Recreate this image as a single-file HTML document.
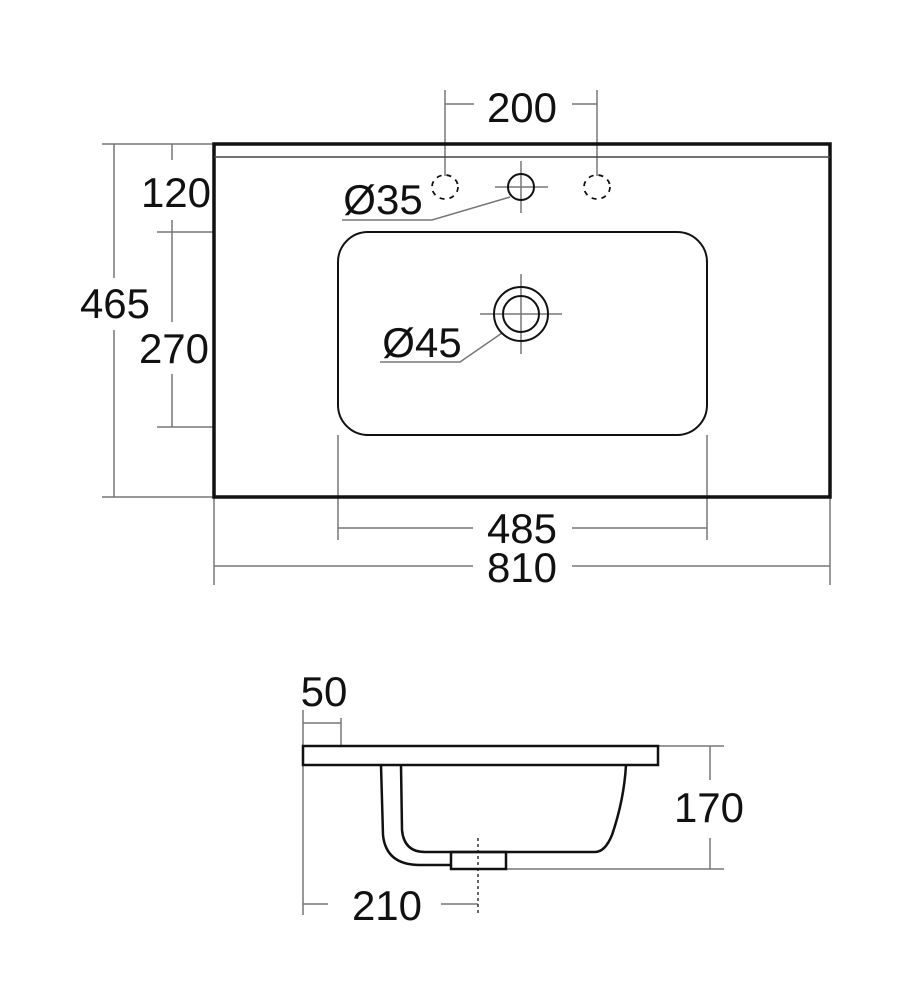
<!DOCTYPE html>
<html><head><meta charset="utf-8"><style>html,body{margin:0;padding:0;background:#fff}svg{display:block}</style></head>
<body>
<svg width="924" height="1000" viewBox="0 0 924 1000" xmlns="http://www.w3.org/2000/svg">
<g font-family="Liberation Sans, sans-serif" font-size="42" fill="#111" text-anchor="middle">
<text x="522" y="122">200</text>
<text x="176" y="207">120</text>
<text x="115" y="318">465</text>
<text x="174" y="363">270</text>
<text x="383" y="214">Ø35</text>
<text x="422" y="357">Ø45</text>
<text x="522" y="543">485</text>
<text x="522" y="582">810</text>
<text x="324" y="706">50</text>
<text x="709" y="822">170</text>
<text x="387" y="920">210</text>
</g>
<g fill="none" stroke="#777" stroke-width="1.5">
<!-- 200 -->
<line x1="445" y1="90" x2="445" y2="176"/><line x1="597" y1="90" x2="597" y2="176"/>
<line x1="445" y1="104" x2="474" y2="104"/><line x1="572" y1="104" x2="597" y2="104"/>
<!-- left dims -->
<line x1="102" y1="144" x2="214" y2="144"/><line x1="102" y1="497" x2="214" y2="497"/>
<line x1="114" y1="144" x2="114" y2="278"/><line x1="114" y1="330" x2="114" y2="497"/>
<line x1="172" y1="144" x2="172" y2="160"/>
<line x1="157" y1="232" x2="214" y2="232"/><line x1="157" y1="427" x2="214" y2="427"/>
<line x1="172" y1="220" x2="172" y2="322"/><line x1="172" y1="374" x2="172" y2="427"/>
<!-- bottom dims -->
<line x1="338" y1="435" x2="338" y2="540"/><line x1="707" y1="435" x2="707" y2="540"/>
<line x1="214" y1="497" x2="214" y2="585"/><line x1="830" y1="497" x2="830" y2="585"/>
<line x1="338" y1="528" x2="473" y2="528"/><line x1="572" y1="528" x2="707" y2="528"/>
<line x1="214" y1="566" x2="473" y2="566"/><line x1="572" y1="566" x2="830" y2="566"/>
<!-- leaders -->
<polyline points="342,220 432,220 510,197"/>
<polyline points="380,362 460,362 502,333"/>
<!-- crosshairs -->
<line x1="495" y1="187" x2="548" y2="187"/><line x1="521" y1="161" x2="521" y2="213"/>
<line x1="480" y1="314" x2="562" y2="314"/><line x1="521" y1="274" x2="521" y2="354"/>
<!-- side dims -->
<line x1="303" y1="710" x2="303" y2="915"/><line x1="341" y1="718" x2="341" y2="746"/>
<line x1="303" y1="723" x2="341" y2="723"/>
<line x1="658" y1="746" x2="724" y2="746"/><line x1="506" y1="869" x2="724" y2="869"/>
<line x1="710" y1="746" x2="710" y2="780"/><line x1="710" y1="838" x2="710" y2="869"/>
<line x1="303" y1="904" x2="328" y2="904"/><line x1="441" y1="904" x2="478" y2="904"/>
<line x1="478" y1="838" x2="478" y2="915" stroke-dasharray="3,3" stroke="#333"/>
</g>
<g fill="none" stroke="#111">
<rect x="214" y="144" width="616" height="353" stroke-width="3.5"/>
<line x1="214" y1="157" x2="830" y2="157" stroke-width="1.5" stroke="#444"/>
<rect x="338" y="232" width="369" height="203" rx="30" stroke-width="2"/>
<circle cx="521" cy="187" r="13" stroke-width="2"/>
<circle cx="521" cy="314" r="27" stroke-width="2"/>
<circle cx="521" cy="314" r="18" stroke-width="2"/>
<ellipse cx="445" cy="187" rx="13" ry="12" stroke-dasharray="5,5" stroke-width="1.8"/>
<ellipse cx="597" cy="187" rx="13" ry="12" stroke-dasharray="5,5" stroke-width="1.8"/>
<rect x="303" y="746" width="355" height="19" stroke-width="2.5"/>
<path d="M381 765 L383 835 Q386 865 420 865 L451 865" stroke-width="2.5"/>
<path d="M401 765 L402 830 Q404 852 425 852 L595 852 Q605 852 612 835 Q624 800 626 765" stroke-width="2.5"/>
<rect x="451" y="852" width="55" height="17" stroke-width="2.5"/>
</g>
</svg>
</body></html>
